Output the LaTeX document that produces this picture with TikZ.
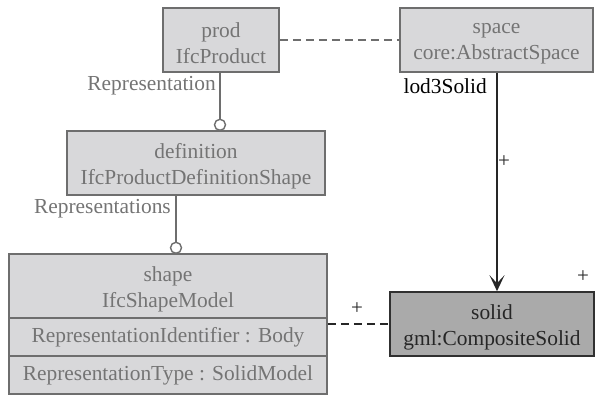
\documentclass[tikz,border=0pt]{standalone}
\usepackage{fontspec}
\setmainfont{Liberation Serif}
\usetikzlibrary{arrows.meta}
\definecolor{boxfill}{HTML}{D8D8DA}
\definecolor{boxline}{HTML}{6E6E6E}
\definecolor{txtgray}{HTML}{747474}
\definecolor{solidfill}{HTML}{AAAAAA}
\definecolor{solidline}{HTML}{303030}
\tikzset{
  cls/.style={draw=boxline, fill=boxfill, line width=1.6pt, inner sep=0pt},
  clsdark/.style={cls, fill=solidfill, draw=solidline},
  ctext/.style={text=txtgray, align=center, inner sep=0pt, yshift=-3.5pt,
    font=\fontsize{21.4}{26}\selectfont},
  ctextdark/.style={ctext, text=black!85},
  row/.style={draw=boxline, fill=boxfill, line width=1.6pt, text=txtgray, inner sep=0pt,
    font=\fontsize{21.4}{26}\selectfont},
  lbl/.style={text=txtgray, inner sep=0pt, font=\fontsize{21.4}{26}\selectfont},
  blbl/.style={text=black, inner sep=0pt, font=\fontsize{21.4}{26}\selectfont},
  plus/.style={text=black!85, inner sep=0pt, font=\fontsize{21}{24}\selectfont},
  conn/.style={draw=boxline, line width=1.6pt},
  dconn/.style={draw=boxline, line width=1.6pt, dash pattern=on 8pt off 5pt},
  ddconn/.style={draw=black!85, line width=1.6pt, dash pattern=on 8pt off 5pt},
  agg/.style={draw=boxline, fill=white, circle, line width=1.4pt, minimum size=11pt, inner sep=0pt},
}
\begin{document}
\begin{tikzpicture}[x=1pt,y=-1pt]
\useasboundingbox (0,0) rectangle (598,396);
\node[cls, minimum width=116pt, minimum height=64pt] (prod) at (221,40) {};
\node[ctext] (prodt) at (prod.center) {prod\\IfcProduct};
\node[cls, minimum width=193pt, minimum height=64pt] (space) at (496.5,40) {};
\node[ctext] (spacet) at (space.center) {space\\core:AbstractSpace};
\node[cls, minimum width=258pt, minimum height=64pt] (def) at (196,163) {};
\node[ctext] (deft) at (def.center) {definition\\IfcProductDefinitionShape};
\node[cls, minimum width=318pt, minimum height=64pt] (shape) at (168,286) {};
\node[ctext] (shapet) at (shape.center) {shape\\IfcShapeModel};
\node[row, minimum width=318pt, minimum height=38pt] (r1) at (168,337) {RepresentationIdentifier : Body};
\node[row, minimum width=318pt, minimum height=38pt] (r2) at (168,375) {RepresentationType : SolidModel};
\node[clsdark, minimum width=204pt, minimum height=64pt] (solid) at (492,324) {};
\node[ctextdark] (solidt) at (solid.center) {solid\\gml:CompositeSolid};

\node[agg, anchor=south] (c1) at (220,131) {};
\node[agg, anchor=south] (c2) at (176,254) {};

\draw[dconn] (prod.east) -- (space.west);
\draw[conn] (prod.south -| c1) -- (c1.north);
\draw[conn] (def.south -| c2) -- (c2.north);
\draw[ddconn] (solid.west -| r1.east) -- (solid.west);
\draw[line width=1.6pt, draw=black!85, -{Stealth[length=16pt,width=15pt,inset=8pt]}]
  (space.south -| 497,0) -- (solid.north -| 497,0);

\node[lbl, anchor=east] (l1) at (216,86) {Representation};
\node[lbl, anchor=east] (l2) at (171,209) {Representations};
\node[blbl, anchor=east] (l3) at (487,86) {lod3Solid};
\node[plus] (p1) at (504,162) {+};
\node[plus] (p2) at (583,277) {+};
\node[plus] (p3) at (357,309) {+};
\end{tikzpicture}
\end{document}
